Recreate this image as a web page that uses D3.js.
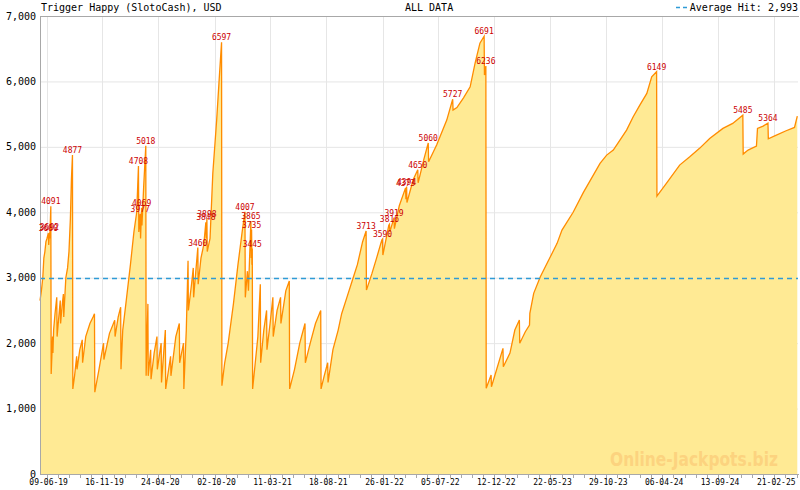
<!DOCTYPE html>
<html><head><meta charset="utf-8">
<script src="https://cdn.jsdelivr.net/npm/d3@7"></script>
<style>body{margin:0;background:#fff}svg{display:block}</style>
</head><body>
<svg id="c" width="800" height="490"></svg>
<script>
const title = "Trigger Happy (SlotoCash), USD";
const subtitle = "ALL DATA";
const averageHit = 2993;
const legendLabel = "Average Hit: 2,993";
const watermark = "Online-Jackpots.biz";

const dates = [
"2019-05-21","2019-05-25","2019-05-29","2019-06-01","2019-06-04","2019-06-07","2019-06-10","2019-06-14","2019-06-15","2019-06-17",
"2019-06-18","2019-06-21","2019-06-22","2019-06-24","2019-06-26","2019-06-27","2019-06-29","2019-07-03","2019-07-08","2019-07-09",
"2019-07-13","2019-07-18","2019-07-19","2019-07-23","2019-07-27","2019-07-28","2019-08-03","2019-08-08","2019-08-12","2019-08-16",
"2019-08-19","2019-08-22","2019-08-23","2019-08-28","2019-09-03","2019-09-04","2019-09-12","2019-09-19","2019-09-20","2019-09-29",
"2019-10-11","2019-10-20","2019-10-24","2019-10-25","2019-11-06","2019-11-19","2019-11-20","2019-12-06","2019-12-21","2019-12-22",
"2019-12-31","2020-01-07","2020-01-08","2020-01-13","2020-01-23","2020-02-04","2020-02-14","2020-02-22","2020-02-27","2020-02-28",
"2020-03-03","2020-03-04","2020-03-07","2020-03-08","2020-03-13","2020-03-19","2020-03-20","2020-03-25","2020-03-26","2020-04-02",
"2020-04-03","2020-04-12","2020-04-20","2020-04-21","2020-05-02","2020-05-03","2020-05-14","2020-05-15","2020-05-29","2020-05-30",
"2020-06-13","2020-06-23","2020-06-24","2020-07-05","2020-07-06","2020-07-13","2020-07-18","2020-07-19","2020-07-28","2020-08-02",
"2020-08-03","2020-08-15","2020-08-16","2020-08-24","2020-09-01","2020-09-07","2020-09-08","2020-09-10","2020-09-11","2020-09-19",
"2020-09-27","2020-10-08","2020-10-16","2020-10-22","2020-10-23","2020-10-31","2020-11-10","2020-11-25","2020-12-08","2020-12-20",
"2020-12-28","2020-12-29","2021-01-04","2021-01-07","2021-01-14","2021-01-15","2021-01-16","2021-01-17","2021-01-18","2021-01-19",
"2021-02-03","2021-02-10","2021-02-11","2021-02-20","2021-02-28","2021-03-01","2021-03-10","2021-03-18","2021-03-19","2021-03-30",
"2021-04-09","2021-04-10","2021-04-24","2021-05-04","2021-05-05","2021-05-19","2021-06-03","2021-06-18","2021-06-19","2021-07-03",
"2021-07-18","2021-08-02","2021-08-03","2021-08-12","2021-08-22","2021-08-23","2021-09-06","2021-09-21","2021-10-01","2021-10-16",
"2021-10-31","2021-11-15","2021-11-30","2021-12-10","2021-12-11","2021-12-27","2022-01-09","2022-01-24","2022-01-26","2022-01-27",
"2022-02-13","2022-02-15","2022-02-16","2022-02-28","2022-03-01","2022-03-15","2022-04-02","2022-04-03","2022-04-05","2022-04-06",
"2022-04-24","2022-05-07","2022-05-08","2022-05-24","2022-06-06","2022-06-07","2022-06-30","2022-07-29","2022-08-15","2022-08-16",
"2022-08-27","2022-09-15","2022-10-04","2022-10-18","2022-11-01","2022-11-13","2022-11-14","2022-11-18","2022-11-19","2022-12-03",
"2022-12-04","2023-01-06","2023-01-07","2023-01-26","2023-02-09","2023-02-22","2023-02-23","2023-03-11","2023-03-23","2023-03-24",
"2023-04-04","2023-04-23","2023-05-17","2023-06-10","2023-06-24","2023-07-26","2023-08-24","2023-10-11","2023-10-30","2023-11-18",
"2023-12-07","2023-12-26","2024-01-14","2024-02-02","2024-02-22","2024-03-07","2024-03-21","2024-03-22","2024-04-18","2024-05-26",
"2024-06-24","2024-07-22","2024-08-20","2024-09-27","2024-10-25","2024-11-23","2024-11-24","2024-12-08","2025-01-01","2025-01-04",
"2025-01-20","2025-02-03","2025-02-04","2025-02-27","2025-03-27","2025-04-20","2025-04-28"
];
const values = [
2650,2800,3000,3300,3400,3550,3600,3680,3500,3692,
3600,4091,1530,1800,2100,1850,2200,2450,2700,2100,
2350,2650,2300,2550,2750,2400,3000,3150,3400,3900,
4500,4877,1300,1500,1800,1600,1900,2050,1700,2100,
2300,2400,2450,1250,1600,2000,1750,2150,2350,2100,
2400,2550,1600,2200,2650,3200,3700,4000,4708,3700,
3977,3600,4069,3800,4400,5018,1500,2600,1500,1900,
1450,1850,2100,1600,2000,1400,2200,1300,1800,1500,
2100,2300,1700,2000,1300,2200,3260,2500,2900,3150,
2700,3460,2900,3300,3500,3848,3600,3898,3400,3600,
4600,5410,6100,6597,1350,1700,2000,2600,3200,3700,
4007,2700,3100,2800,3865,3300,3735,3200,3445,1300,
2100,2900,1700,2200,2500,1900,2300,2700,2100,2500,
2700,2300,2800,2950,1300,1600,2000,2300,1700,2000,
2300,2500,1300,1500,1700,1400,1900,2200,2450,2700,
2950,3200,3550,3713,2811,3070,3300,3575,3590,3346,
3800,3816,3700,3919,3750,4100,4373,4200,4394,4150,
4500,4650,4450,4800,5060,4772,5027,5409,5727,5562,
5600,5750,5918,6275,6585,6691,6097,6236,1310,1513,
1334,1920,1640,1849,2200,2353,1997,2174,2277,2455,
2761,3015,3270,3525,3728,4000,4300,4747,4874,4951,
5104,5256,5460,5638,5817,6071,6149,4248,4442,4721,
4848,4977,5129,5282,5358,5485,4890,4951,5012,5282,
5317,5364,5123,5180,5246,5297,5470
];
const hitDates = ["2019-06-14","2019-06-17","2019-06-21","2019-08-22","2020-02-27","2020-03-03","2020-03-07","2020-03-19",
"2020-08-15","2020-09-07","2020-09-10","2020-10-22","2020-12-28","2021-01-14","2021-01-16","2021-01-18",
"2021-12-10","2022-01-26","2022-02-15","2022-02-28","2022-04-02","2022-04-05","2022-05-07","2022-06-06",
"2022-08-15","2022-11-13","2022-11-18","2024-03-21","2024-11-23","2025-02-03"];
const hitValues = [3680,3692,4091,4877,4708,3977,4069,5018,
3460,3848,3898,6597,4007,3865,3735,3445,
3713,3590,3816,3919,4373,4394,4650,5060,
5727,6691,6236,6149,5485,5364];
const xTickLabels = ["09-06-19","16-11-19","24-04-20","02-10-20","11-03-21","18-08-21","26-01-22",
"05-07-22","12-12-22","22-05-23","29-10-23","06-04-24","13-09-24","21-02-25"];
const yTicks = [0,1000,2000,3000,4000,5000,6000,7000];
const xDomain = ["2019-05-21","2025-04-30"];

const parse = d3.timeParse("%Y-%m-%d");
const parseTick = d3.timeParse("%d-%m-%y");
const data = dates.map((d,i)=>({date:parse(d), value:values[i]}));
const hits = hitDates.map((d,i)=>({date:parse(d), value:hitValues[i]}));

const svg = d3.select("#c");
const L=40, R=798, T=16, B=474;
const x = d3.scaleTime().domain(xDomain.map(parse)).range([L,R]);
const y = d3.scaleLinear().domain([0,7000]).range([B,T]);
const mono = "'DejaVu Sans Mono', 'Liberation Mono', monospace";
const fmt = d3.format(",");

// grid
const tickDates = xTickLabels.map(parseTick);
svg.append("g").selectAll("line").data(yTicks.filter(v=>v>0 && v<7000)).join("line")
  .attr("x1",L).attr("x2",R).attr("y1",d=>y(d)+0.5).attr("y2",d=>y(d)+0.5)
  .attr("stroke","#e6e6e6");
svg.append("g").selectAll("line").data(tickDates).join("line")
  .attr("x1",d=>Math.round(x(d))+0.5).attr("x2",d=>Math.round(x(d))+0.5).attr("y1",T).attr("y2",B)
  .attr("stroke","#e6e6e6");

// area + line
svg.append("path").datum(data)
  .attr("d", d3.area().x(d=>x(d.date)).y0(y(0)).y1(d=>y(d.value)))
  .attr("fill","#ffea94");

// watermark
svg.append("text").attr("x",610).attr("y",466).text(watermark)
  .attr("font-family","'DejaVu Sans', Verdana, sans-serif").attr("font-weight","bold")
  .attr("font-size",20).attr("fill","#fcd37f").attr("textLength",168).attr("lengthAdjust","spacingAndGlyphs");

svg.append("path").datum(data)
  .attr("d", d3.line().x(d=>x(d.date)).y(d=>y(d.value)))
  .attr("fill","none").attr("stroke","#ff8c00").attr("stroke-width",1.3).attr("stroke-linejoin","miter");

// average line
svg.append("line").attr("x1",L).attr("x2",R).attr("y1",Math.round(y(averageHit))+0.5).attr("y2",Math.round(y(averageHit))+0.5)
  .attr("stroke","#2f9bd6").attr("stroke-width",1.3).attr("stroke-dasharray","5,4");

// axes frame
svg.append("line").attr("x1",L+0.5).attr("x2",L+0.5).attr("y1",T).attr("y2",B).attr("stroke","#a8a8a8");
svg.append("line").attr("x1",L).attr("x2",R+1).attr("y1",T+0.5).attr("y2",T+0.5).attr("stroke","#a8a8a8");
svg.append("line").attr("x1",L).attr("x2",R+1).attr("y1",B+0.5).attr("y2",B+0.5).attr("stroke","#a8a8a8");

// x ticks
const minor = [];
for (let i=0;i<tickDates.length;i++){
  const a = tickDates[i], b = tickDates[i+1] || d3.timeDay.offset(a,160);
  const a0 = i===0 ? d3.timeDay.offset(a,-160) : null;
  for (let k=1;k<5;k++){
    const t = new Date(+a + (b-a)*k/5);
    if (x(t) < R) minor.push(t);
  }
  if (a0){ for (let k=1;k<5;k++){ const t=new Date(+a0+(a-a0)*k/5); if (x(t)>L) minor.push(t);} }
}
svg.append("g").selectAll("line").data(minor).join("line")
  .attr("x1",d=>Math.round(x(d))+0.5).attr("x2",d=>Math.round(x(d))+0.5).attr("y1",B).attr("y2",B+4)
  .attr("stroke","#a8a8a8");
svg.append("g").selectAll("line").data(tickDates).join("line")
  .attr("x1",d=>Math.round(x(d))+0.5).attr("x2",d=>Math.round(x(d))+0.5).attr("y1",B).attr("y2",B+6)
  .attr("stroke","#a8a8a8");
svg.append("g").selectAll("text").data(tickDates).join("text")
  .attr("x",d=>x(d)+2).attr("y",485).attr("text-anchor","middle")
  .attr("font-family",mono).attr("font-size",8).attr("fill","#000")
  .text((d,i)=>xTickLabels[i]);

// y labels
svg.append("g").selectAll("text").data(yTicks).join("text")
  .attr("x",36).attr("y",d=>y(d)+3.5).attr("text-anchor","end")
  .attr("font-family",mono).attr("font-size",10).attr("fill","#000")
  .text(d=>fmt(d));

// hit labels
svg.append("g").selectAll("text").data(hits).join("text")
  .attr("x",d=>x(d.date)).attr("y",d=>y(d.value)-2).attr("text-anchor","middle")
  .attr("font-family",mono).attr("font-size",8).attr("fill","#cc0000")
  .text(d=>d.value);

// header
svg.append("text").attr("x",41).attr("y",11).text(title)
  .attr("font-family",mono).attr("font-size",10).attr("fill","#000");
svg.append("text").attr("x",405).attr("y",11).text(subtitle)
  .attr("font-family",mono).attr("font-size",10).attr("fill","#000");
svg.append("text").attr("x",798).attr("y",11).attr("text-anchor","end").text(legendLabel)
  .attr("font-family",mono).attr("font-size",10).attr("fill","#000");
svg.append("line").attr("x1",676).attr("x2",690).attr("y1",7.5).attr("y2",7.5)
  .attr("stroke","#2f9bd6").attr("stroke-width",1.3).attr("stroke-dasharray","4,3");
</script>
</body></html>
